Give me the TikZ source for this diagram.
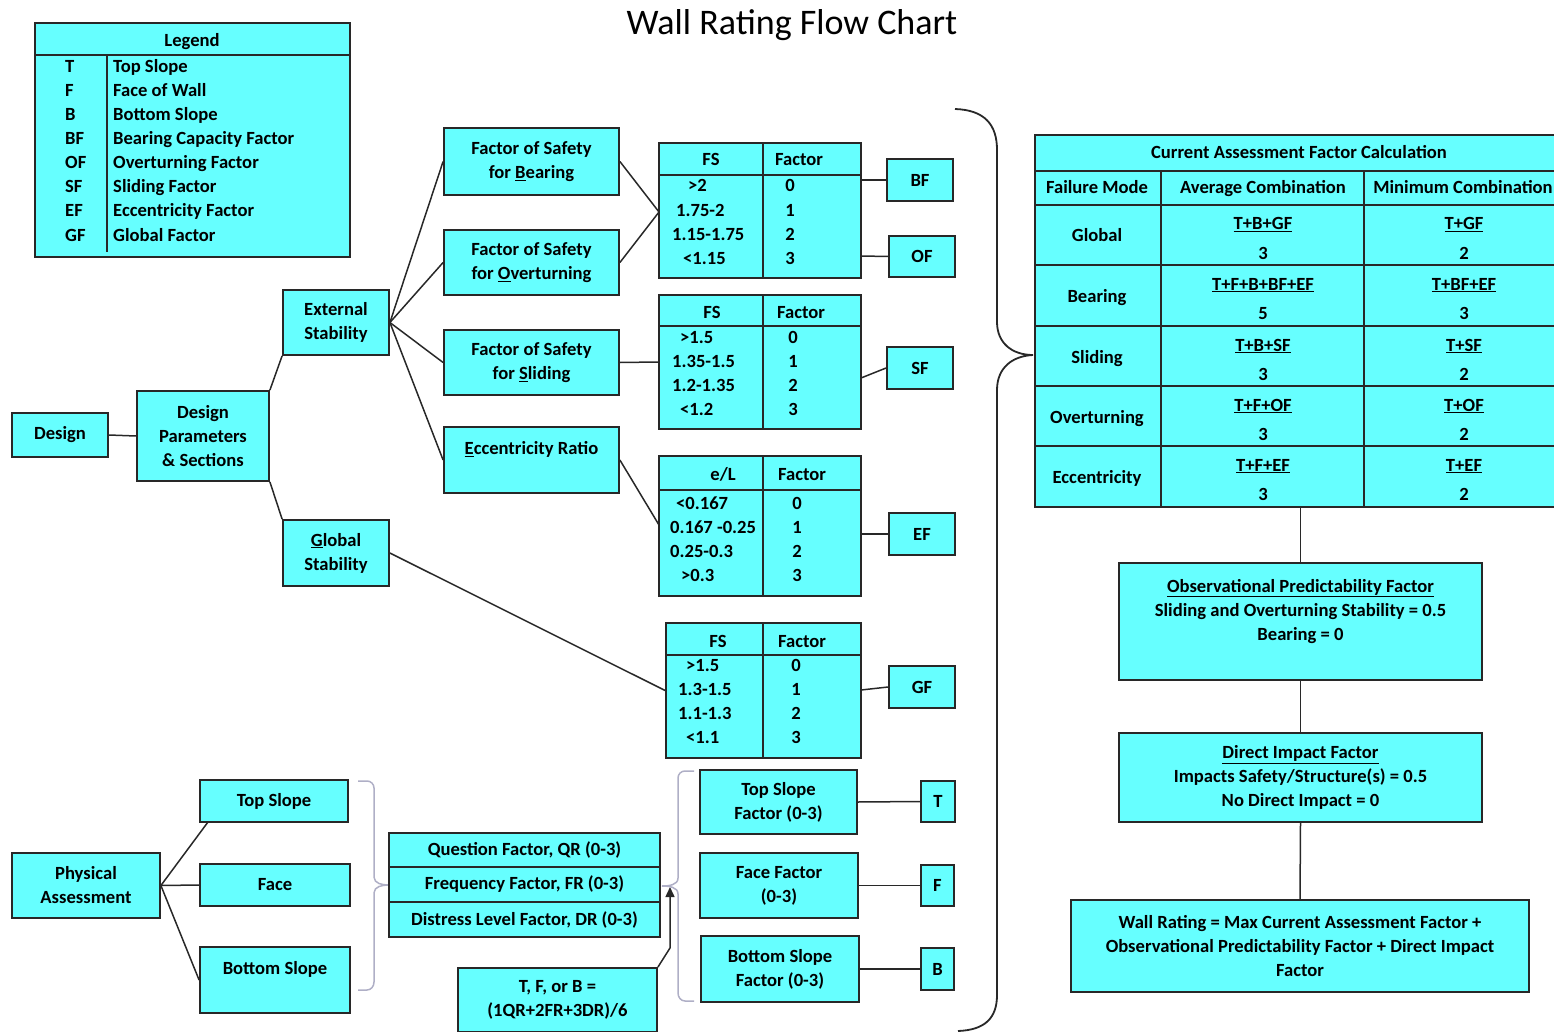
\documentclass[tikz,border=0pt]{standalone}
\usepackage{fontspec}
\setmainfont{Carlito}
\usetikzlibrary{arrows.meta}
\definecolor{boxfill}{RGB}{102,255,255}
\definecolor{edge}{RGB}{40,40,40}
\definecolor{brk}{RGB}{175,175,198}
\begin{document}
\begin{tikzpicture}[x=1pt,y=-1pt,
  box/.style={draw=edge, fill=boxfill, line width=1.8pt, inner sep=0pt, align=center, font=\fontsize{18.6}{24}\selectfont\bfseries},
  txt/.style={inner sep=0pt, text height=13.4pt, text depth=1.4pt, font=\fontsize{18.6}{24}\selectfont\bfseries},
  conn/.style={draw=edge, line width=1.5pt},
  gridline/.style={draw=edge, line width=1.5pt},
  bigbrace/.style={draw=edge, line width=1.8pt},
  lightbrace/.style={draw=brk, line width=1.5pt},
]
\useasboundingbox (0,0) rectangle (1554,1032);

% title
\node[inner sep=0pt, font=\fontsize{36}{42}\selectfont] (title) at (792,25) {Wall Rating Flow Chart};

% legend
\node[box, minimum width=315pt, minimum height=234pt] (legend) at (192.5,140) {};
\draw[gridline] (35,55) -- (350,55);
\draw[gridline] (107,55) -- (107,252);
\node[txt] (lgh) at (192,41) {Legend};
\foreach \ab/\de [count=\i] in {T/Top Slope, F/Face of Wall, B/Bottom Slope, BF/Bearing Capacity Factor, OF/Overturning Factor, SF/Sliding Factor, EF/Eccentricity Factor, GF/Global Factor}{
  \node[txt, anchor=west] (lga\i) at (65,43+24*\i) {\ab};
  \node[txt, anchor=west] (lgd\i) at (113,43+24*\i) {\de};
}

% design tree
\node[box, minimum width=96pt, minimum height=44pt] (design) at (60,435) {Design};
\node[box, minimum width=132pt, minimum height=90pt] (dp) at (203,436) {Design\\Parameters\\\& Sections};
\node[box, minimum width=106pt, minimum height=65pt] (es) at (336,322.5) {External\\Stability};
\node[box, minimum width=106pt, minimum height=66pt] (gs) at (336,553) {\underline{G}lobal\\Stability};
\node[box, minimum width=175pt, minimum height=67pt] (fsb) at (531.5,161.5) {Factor of Safety\\for \underline{B}earing};
\node[box, minimum width=175pt, minimum height=65pt] (fso) at (531.5,262.5) {Factor of Safety\\for \underline{O}verturning};
\node[box, minimum width=175pt, minimum height=65pt] (fss) at (531.5,362.5) {Factor of Safety\\for \underline{S}liding};
\node[box, minimum width=175pt, minimum height=66pt] (ecc) at (531.5,460) {\underline{E}ccentricity Ratio\\\phantom{X}};

% tables
\node[box, minimum width=202pt, minimum height=135pt] (t1) at (760,210.5) {};
\draw[gridline] (659,175) -- (861,175);
\draw[gridline] (763,143) -- (763,278);
\node[txt] (t1h1) at (711,160) {FS};
\node[txt] (t1h2) at (799,160) {Factor};
\foreach \lx/\lt/\v [count=\i] in {688/>2/0, 676/1.75-2/1, 672/1.15-1.75/2, 683/<1.15/3}{
  \node[txt, anchor=west] (t1l\i) at (\lx,186+24.1*\i-24.1) {\lt};
  \node[txt] (t1v\i) at (790,186+24.1*\i-24.1) {\v};
}

\node[box, minimum width=202pt, minimum height=134pt] (t2) at (760,362) {};
\draw[gridline] (659,326) -- (861,326);
\draw[gridline] (763,295) -- (763,429);
\node[txt] (t2h1) at (712,312) {FS};
\node[txt] (t2h2) at (801,312) {Factor};
\foreach \lx/\lt/\v [count=\i] in {680/>1.5/0, 672/1.35-1.5/1, 672/1.2-1.35/2, 680/<1.2/3}{
  \node[txt, anchor=west] (t2l\i) at (\lx,337+24*\i-24) {\lt};
  \node[txt] (t2v\i) at (793,337+24*\i-24) {\v};
}

\node[box, minimum width=202pt, minimum height=140pt] (t3) at (760,526) {};
\draw[gridline] (659,490) -- (861,490);
\draw[gridline] (763,456) -- (763,596);
\node[txt] (t3h1) at (723,474) {e/L};
\node[txt] (t3h2) at (802,474) {Factor};
\foreach \lx/\lt/\v [count=\i] in {676/<0.167/0, 670/0.167 -0.25/1, 670/0.25-0.3/2, 681/>0.3/3}{
  \node[txt, anchor=west] (t3l\i) at (\lx,503+24*\i-24) {\lt};
  \node[txt] (t3v\i) at (797,503+24*\i-24) {\v};
}

\node[box, minimum width=195pt, minimum height=135pt] (t4) at (763.5,690.5) {};
\draw[gridline] (666,655) -- (861,655);
\draw[gridline] (763,623) -- (763,758);
\node[txt] (t4h1) at (718,641) {FS};
\node[txt] (t4h2) at (802,641) {Factor};
\foreach \lx/\lt/\v [count=\i] in {686/>1.5/0, 678/1.3-1.5/1, 678/1.1-1.3/2, 686/<1.1/3}{
  \node[txt, anchor=west] (t4l\i) at (\lx,665+24.3*\i-24.3) {\lt};
  \node[txt] (t4v\i) at (796,665+24.3*\i-24.3) {\v};
}

% factor boxes
\node[box, minimum width=66pt, minimum height=42pt] (bf) at (920,180) {BF};
\node[box, minimum width=66pt, minimum height=41pt] (of) at (922,256.5) {OF};
\node[box, minimum width=66pt, minimum height=42pt] (sf) at (920,368) {SF};
\node[box, minimum width=66pt, minimum height=42pt] (ef) at (922,534) {EF};
\node[box, minimum width=66pt, minimum height=42pt] (gf) at (922,687) {GF};

% connector points on table edges
\coordinate (t1in) at (659,212);
\coordinate (t3in) at (659,525);
\coordinate (t1bf) at (861,180);
\coordinate (t1of) at (861,256);
\coordinate (t2sf) at (861,378);
\coordinate (t3ef) at (861,534);
\coordinate (t4gf) at (861,690);

\draw[conn] (design.east) -- (dp.west);
\draw[conn] (dp.north east) -- (es.south west);
\draw[conn] (dp.south east) -- (gs.north west);
\draw[conn] (es.east) -- (fsb.west);
\draw[conn] (es.east) -- (fso.west);
\draw[conn] (es.east) -- (fss.west);
\draw[conn] (es.east) -- (ecc.west);
\draw[conn] (fsb.east) -- (t1in);
\draw[conn] (fso.east) -- (t1in);
\draw[conn] (fss.east) -- (t2.west);
\draw[conn] (ecc.east) -- (t3in);
\draw[conn] (gs.east) -- (t4.west);
\draw[conn] (t1bf) -- (bf.west);
\draw[conn] (t1of) -- (of.west);
\draw[conn] (t2sf) -- (sf.west);
\draw[conn] (t3ef) -- (ef.west);
\draw[conn] (t4gf) -- (gf.west);

% physical assessment
\node[box, minimum width=148pt, minimum height=65pt] (pa) at (86,885.5) {Physical\\Assessment};
\node[box, minimum width=148pt, minimum height=42pt] (ts) at (274,801) {Top Slope};
\node[box, minimum width=150pt, minimum height=42pt] (fa) at (275,885) {Face};
\node[box, minimum width=150pt, minimum height=66pt] (bs) at (275,980) {Bottom Slope\\\phantom{X}};
\coordinate (tsin) at (208,822);
\draw[conn] (pa.east) -- (tsin);
\draw[conn] (pa.east) -- (fa.west);
\draw[conn] (pa.east) -- (bs.west);

% light bracket 1
\draw[lightbrace] (358,781) -- (367,781) to[out=0,in=90] (374,788) -- (374,877) to[out=-90,in=180] (389,885);
\draw[lightbrace] (389,885) to[out=180,in=90] (374,893) -- (374,982) to[out=-90,in=0] (367,990) -- (358,990);

% QR table
\node[box, minimum width=271pt, minimum height=34pt] (qr) at (524.5,850) {Question Factor, QR (0-3)};
\node[box, minimum width=271pt, minimum height=35pt] (fr) at (524.5,884.5) {Frequency Factor, FR (0-3)};
\node[box, minimum width=271pt, minimum height=35pt] (dr) at (524.5,919.5) {Distress Level Factor, DR (0-3)};

% formula box and arrow
\node[box, minimum width=199pt, minimum height=64pt] (fb) at (557.5,1000) {T, F, or B =\\(1QR+2FR+3DR)/6};
\coordinate (bend) at (670,948);
\coordinate (arrtip) at (670,887);
\draw[conn, -{Triangle[length=10pt,width=9pt]}] (fb.north east) -- (bend) -- (arrtip);

% light bracket 2
\draw[lightbrace] (694,771) -- (685,771) to[out=180,in=90] (678,778) -- (678,878) to[out=-90,in=0] (662,886);
\draw[lightbrace] (662,886) to[out=0,in=90] (678,894) -- (678,993) to[out=-90,in=180] (685,1001) -- (694,1001);

% slope factor boxes
\node[box, minimum width=157pt, minimum height=64pt] (tsf) at (778.5,802) {Top Slope\\Factor (0-3)};
\node[box, minimum width=158pt, minimum height=65pt] (fff) at (779,885.5) {Face Factor\\(0-3)};
\node[box, minimum width=158pt, minimum height=66pt] (bsf) at (780,969) {Bottom Slope\\Factor (0-3)};
\node[box, minimum width=34pt, minimum height=41pt] (tb) at (938,801.5) {T};
\node[box, minimum width=33pt, minimum height=41pt] (fbx) at (937.5,885.5) {F};
\node[box, minimum width=33pt, minimum height=42pt] (bb) at (937.5,969) {B};
\draw[conn] (tsf.east) -- (tb.west);
\draw[conn] (fff.east) -- (fbx.west);
\draw[conn] (bsf.east) -- (bb.west);

% big brace
\draw[bigbrace] (955,109) .. controls (985,110) and (997,125) .. (997,150) -- (997,322)
  .. controls (997,343) and (1012,355) .. (1033,355)
  .. controls (1012,356) and (997,368) .. (997,390) -- (997,995)
  .. controls (997,1018) and (985,1030) .. (958,1031);

% current assessment table
\node[box, minimum width=521pt, minimum height=372pt] (caf) at (1295.5,321) {};
\foreach \yy in {171,205,265,326,386,446}{
  \draw[gridline] (1035,\yy) -- (1556,\yy);
}
\draw[gridline] (1161,171) -- (1161,507);
\draw[gridline] (1364,171) -- (1364,507);
\node[txt] (cafh) at (1299,153) {Current Assessment Factor Calculation};
\node[txt] (cafc1) at (1097,188) {Failure Mode};
\node[txt] (cafc2) at (1263,188) {Average Combination};
\node[txt] (cafc3) at (1463,188) {Minimum Combination};
\foreach \m/\a/\ad/\b/\bd/\yy [count=\i] in {Global/T+B+GF/3/T+GF/2/205, Bearing/T+F+B+BF+EF/5/T+BF+EF/3/265, Sliding/T+B+SF/3/T+SF/2/326, Overturning/T+F+OF/3/T+OF/2/386, Eccentricity/T+F+EF/3/T+EF/2/446}{
  \node[txt] (cafm\i) at (1097,\yy+31) {\m};
  \node[txt] (cafan\i) at (1263,\yy+19) {\underline{\a}};
  \node[txt] (cafad\i) at (1263,\yy+48) {\ad};
  \node[txt] (cafbn\i) at (1464,\yy+19) {\underline{\b}};
  \node[txt] (cafbd\i) at (1464,\yy+48) {\bd};
}

% right column
\node[box, minimum width=363pt, minimum height=117pt] (opf) at (1300.5,621.5) {\underline{Observational Predictability Factor}\\Sliding and Overturning Stability = 0.5\\Bearing = 0\\\phantom{X}};
\node[box, minimum width=363pt, minimum height=89pt] (dif) at (1300.5,777.5) {\underline{Direct Impact Factor}\\Impacts Safety/Structure(s) = 0.5\\No Direct Impact = 0};
\node[box, minimum width=458pt, minimum height=92pt] (wr) at (1300,946) {Wall Rating = Max Current Assessment Factor +\\Observational Predictability Factor + Direct Impact\\Factor};
\draw[conn] (opf.north |- caf.south) -- (opf.north);
\draw[conn] (opf.south) -- (dif.north);
\draw[conn] (dif.south) -- (wr.north);

\end{tikzpicture}
\end{document}
